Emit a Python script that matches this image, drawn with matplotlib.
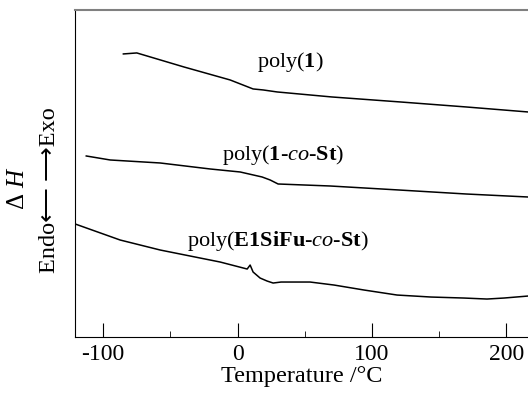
import matplotlib.pyplot as plt
from matplotlib.ticker import MultipleLocator

plt.rcParams['font.family'] = ['Liberation Serif', 'DejaVu Sans']
plt.rcParams['mathtext.fontset'] = 'custom'
plt.rcParams['mathtext.rm'] = 'Liberation Serif'
plt.rcParams['mathtext.bf'] = 'Liberation Serif:bold'
plt.rcParams['mathtext.it'] = 'Liberation Serif:italic'
plt.rcParams['axes.unicode_minus'] = False

# DSC traces (temperature in °C, heat flow in arbitrary units)
t_poly1 = [-85, -75, -65, -40, -5.6, 11.5, 19, 29.4, 70, 121, 170, 216]
h_poly1 = [283, 284, 280, 270, 257, 248, 247, 245, 240, 235, 230, 225]

t_co = [-112.6, -94.8, -57.6, -20.4, 1.9, 18.2, 24.2, 30.1, 68.8, 120, 170, 216]
h_co = [181, 177, 174, 168, 165, 160, 157, 153, 151, 147, 143, 140]

t_e1 = [-120.8, -87.4, -57.6, -27.9, -13.0, 7.1, 9.3, 11.5, 16.7, 21.9, 26.4,
        32.3, 53.9, 71.7, 94.1, 118.6, 143.9, 168.4, 185.5, 198.1, 216]
h_e1 = [113, 97, 87, 79, 75, 68, 72, 65, 59, 56, 54,
        55, 55, 52, 47, 42, 40, 39, 38, 39, 41]

fig = plt.figure(figsize=(5.28, 3.97), dpi=100)
ax = fig.add_axes([0.142, 0.151, 0.858, 0.824])

for t, h in [(t_poly1, h_poly1), (t_co, h_co), (t_e1, h_e1)]:
    ax.plot(t, h, color='black', lw=1.1)

ax.set_xlim(-121, 216)
ax.set_ylim(0, 327)

ax.text(39, 275, r'poly($\mathbf{1}$)', fontsize=16, ha='center', va='center')
ax.text(34, 182, r'poly($\mathbf{1}$-$\mathit{co}$-$\mathbf{St}$)', fontsize=16,
        ha='center', va='center')
ax.text(30, 96, r'poly($\mathbf{E1SiFu}$-$\mathit{co}$-$\mathbf{St}$)', fontsize=16,
        ha='center', va='center')

ax.set_xticks([-100, 0, 100, 200])
ax.xaxis.set_minor_locator(MultipleLocator(50))
ax.tick_params(axis='x', which='major', direction='in', length=10, labelsize=17, pad=5)
ax.tick_params(axis='x', which='minor', direction='in', length=4)
ax.set_yticks([])
ax.set_xlabel('Temperature /°C', fontsize=17.5, labelpad=1)

ax.spines['right'].set_visible(False)
ax.spines['top'].set_color('#808080')
ax.spines['top'].set_linewidth(1.5)

fig.text(50 / 528, 1 - 190 / 397, 'Endo\u27f5 \u27f6Exo', rotation=90,
         fontsize=17.5, ha='center', va='center')
fig.text(18 / 528, 1 - 188 / 397, r'$\mathit{\Delta\ H}$', rotation=90,
         fontsize=18, ha='center', va='center')

fig.savefig('out.png', dpi=100)
